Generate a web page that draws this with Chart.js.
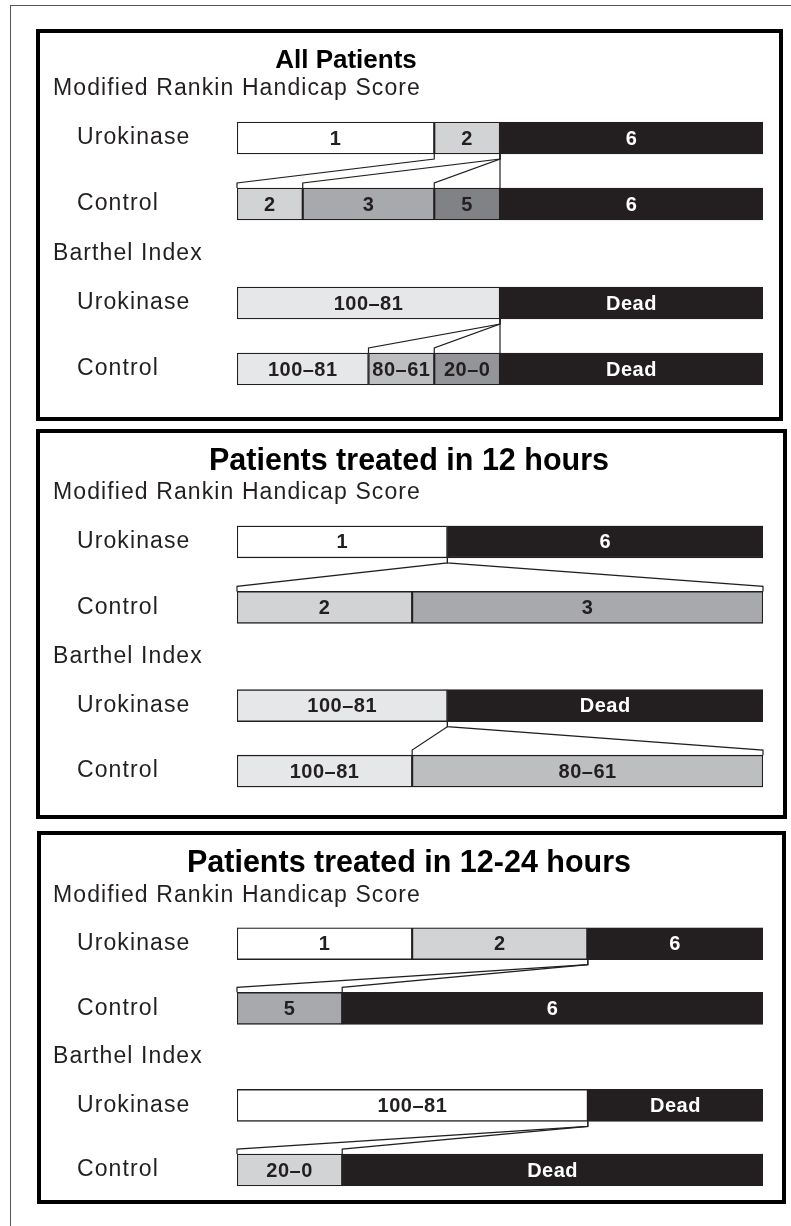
<!DOCTYPE html>
<html>
<head>
<meta charset="utf-8">
<script src="https://cdn.jsdelivr.net/npm/chart.js@4.4.1/dist/chart.umd.min.js"></script>
<style>
  body { margin: 0; background: #fff; width: 791px; height: 1226px; position: relative; overflow: hidden; }
  .frame { position: absolute; left: 10px; top: 5px; width: 800px; height: 1240px; border: 1.5px solid #555; }
  .panel { position: absolute; border: 4px solid #000; box-sizing: border-box; }
  canvas { position: absolute; left: 40px; }
</style>
</head>
<body>
<div class="frame"></div>
<div class="panel" style="left:36px;top:29px;width:747px;height:392px"></div>
<div class="panel" style="left:36px;top:429px;width:751px;height:390px"></div>
<div class="panel" style="left:37px;top:831px;width:749px;height:373px"></div>
<canvas id="all" width="740" height="384" style="top:33px"></canvas>
<canvas id="early" width="740" height="382" style="top:433px"></canvas>
<canvas id="late" width="740" height="365" style="top:835px"></canvas>
<script>
// rows of every panel: Rankin urokinase / control, Barthel urokinase / control
const rowLabels = ['Urokinase', '', 'Control', '', '', 'Urokinase', '', 'Control'];
const rowSlots = [0, 2, 5, 7];
const headerSlots = [-1.5, 3.5];
const headerTexts = ['Modified Rankin Handicap Score', 'Barthel Index'];

// share of patients (%) per outcome
// All patients
const allRankinUro = [37.5, 12.5, 50];
const allRankinUroCats = ['1', '2', '6'];
const allRankinCtl = [12.5, 25, 12.5, 50];
const allRankinCtlCats = ['2', '3', '5', '6'];
const allBarthelUro = [50, 50];
const allBarthelUroCats = ['100–81', 'Dead'];
const allBarthelCtl = [25, 12.5, 12.5, 50];
const allBarthelCtlCats = ['100–81', '80–61', '20–0', 'Dead'];
// connector lines: [urokinase cumulative %, control cumulative %]
const allRankinLinks = [[37.5, 0], [50, 12.5], [50, 37.5], [50, 50]];
const allBarthelLinks = [[50, 25], [50, 37.5], [50, 50]];

// Treated within 12 hours
const earlyRankinUro = [40, 60];
const earlyRankinUroCats = ['1', '6'];
const earlyRankinCtl = [33.3, 66.7];
const earlyRankinCtlCats = ['2', '3'];
const earlyBarthelUro = [40, 60];
const earlyBarthelUroCats = ['100–81', 'Dead'];
const earlyBarthelCtl = [33.3, 66.7];
const earlyBarthelCtlCats = ['100–81', '80–61'];
const earlyRankinLinks = [[40, 0], [40, 100]];
const earlyBarthelLinks = [[40, 33.3], [40, 100]];

// Treated in 12-24 hours
const lateRankinUro = [33.3, 33.3, 33.4];
const lateRankinUroCats = ['1', '2', '6'];
const lateRankinCtl = [20, 80];
const lateRankinCtlCats = ['5', '6'];
const lateBarthelUro = [66.7, 33.3];
const lateBarthelUroCats = ['100–81', 'Dead'];
const lateBarthelCtl = [20, 80];
const lateBarthelCtlCats = ['20–0', 'Dead'];
const lateRankinLinks = [[66.7, 0], [66.7, 20]];
const lateBarthelLinks = [[66.7, 0], [66.7, 20]];

const INK = '#231f20';
const WHITE = '#ffffff';
const PALE = '#e6e7e8';
const LIGHT = '#d1d3d4';
const SILVER = '#bcbec0';
const MID = '#a7a9ac';
const STEEL = '#939598';
const DARK = '#808285';
const FONT = '"Liberation Sans", Arial, sans-serif';

function buildPanel(id, title, titleX, titleY, titleSize, top, span, rows, links) {
  const canvas = document.getElementById(id);
  const datasets = [];
  rows.forEach((row, r) => {
    row.vals.forEach((v, s) => {
      const data = rowLabels.map(() => null);
      data[rowSlots[r]] = v;
      datasets.push({
        label: row.cats[s],
        data: data,
        backgroundColor: row.colors[s],
        borderColor: INK,
        borderWidth: 1.4,
        borderSkipped: false,
        barThickness: 32
      });
    });
  });

  const overlay = {
    id: 'overlay',
    beforeDraw(chart) {
      // the source face is a little wider than Liberation Sans
      chart.ctx.letterSpacing = '1.1px';
    },
    afterDatasetsDraw(chart) {
      const ctx = chart.ctx;
      const x = chart.scales.x;
      const y = chart.scales.y;
      ctx.save();
      // title and section headers
      ctx.letterSpacing = '0px';
      ctx.fillStyle = '#000';
      ctx.textAlign = 'center';
      ctx.textBaseline = 'middle';
      ctx.font = 'bold ' + titleSize + 'px ' + FONT;
      ctx.fillText(title, titleX, titleY);
      ctx.letterSpacing = '1.1px';
      ctx.fillStyle = INK;
      ctx.textAlign = 'left';
      ctx.font = '23px ' + FONT;
      headerSlots.forEach((slot, k) => ctx.fillText(headerTexts[k], 13, y.getPixelForValue(slot)));

      // connectors between urokinase and control bars
      ctx.strokeStyle = INK;
      ctx.lineWidth = 1.2;
      links.forEach((group, g) => {
        const yb = y.getPixelForValue(rowSlots[g * 2]) + 16;
        const yt = y.getPixelForValue(rowSlots[g * 2 + 1]) - 16;
        group.forEach(([u, c]) => {
          const xu = x.getPixelForValue(u);
          const xc = x.getPixelForValue(c);
          ctx.beginPath();
          ctx.moveTo(xu, yb);
          ctx.lineTo(xu, yb + 5);
          ctx.lineTo(xc, yt - 5);
          ctx.lineTo(xc, yt);
          ctx.stroke();
        });
      });

      // segment labels
      ctx.letterSpacing = '0.5px';
      ctx.textAlign = 'center';
      ctx.font = 'bold 20px ' + FONT;
      chart.data.datasets.forEach((ds, i) => {
        chart.getDatasetMeta(i).data.forEach((bar, j) => {
          if (ds.data[j] == null) return;
          ctx.fillStyle = ds.backgroundColor === INK ? '#fff' : INK;
          ctx.fillText(ds.label, (bar.x + bar.base) / 2, bar.y + 1);
        });
      });
      ctx.restore();
    },
    afterDraw(chart) {
      chart.ctx.letterSpacing = '0px';
    }
  };

  new Chart(canvas, {
    type: 'bar',
    data: { labels: rowLabels, datasets: datasets },
    options: {
      indexAxis: 'y',
      responsive: false,
      animation: false,
      layout: { padding: { left: 37, right: 17, top: top, bottom: canvas.height - top - span } },
      scales: {
        x: { stacked: true, min: 0, max: 100, display: false },
        y: {
          stacked: true,
          grid: { display: false },
          border: { display: false },
          ticks: { crossAlign: 'far', autoSkip: false, padding: 0, color: INK, font: { family: FONT, size: 23 } },
          afterFit: s => { s.width = 160; }
        }
      },
      plugins: { legend: { display: false }, tooltip: { enabled: false } }
    },
    plugins: [overlay]
  });
}

buildPanel('all', 'All Patients', 306, 28, 26, 88.5, 264, [
  { vals: allRankinUro, cats: allRankinUroCats, colors: [WHITE, LIGHT, INK] },
  { vals: allRankinCtl, cats: allRankinCtlCats, colors: [LIGHT, MID, DARK, INK] },
  { vals: allBarthelUro, cats: allBarthelUroCats, colors: [PALE, INK] },
  { vals: allBarthelCtl, cats: allBarthelCtlCats, colors: [PALE, SILVER, STEEL, INK] }
], [allRankinLinks, allBarthelLinks]);

buildPanel('early', 'Patients treated in 12 hours', 369, 29, 30.5, 92.5, 262, [
  { vals: earlyRankinUro, cats: earlyRankinUroCats, colors: [WHITE, INK] },
  { vals: earlyRankinCtl, cats: earlyRankinCtlCats, colors: [LIGHT, MID] },
  { vals: earlyBarthelUro, cats: earlyBarthelUroCats, colors: [PALE, INK] },
  { vals: earlyBarthelCtl, cats: earlyBarthelCtlCats, colors: [PALE, SILVER] }
], [earlyRankinLinks, earlyBarthelLinks]);

buildPanel('late', 'Patients treated in 12-24 hours', 369, 29, 30.5, 92.5, 262, [
  { vals: lateRankinUro, cats: lateRankinUroCats, colors: [WHITE, LIGHT, INK] },
  { vals: lateRankinCtl, cats: lateRankinCtlCats, colors: [MID, INK] },
  { vals: lateBarthelUro, cats: lateBarthelUroCats, colors: [WHITE, INK] },
  { vals: lateBarthelCtl, cats: lateBarthelCtlCats, colors: [LIGHT, INK] }
], [lateRankinLinks, lateBarthelLinks]);
</script>
</body>
</html>
